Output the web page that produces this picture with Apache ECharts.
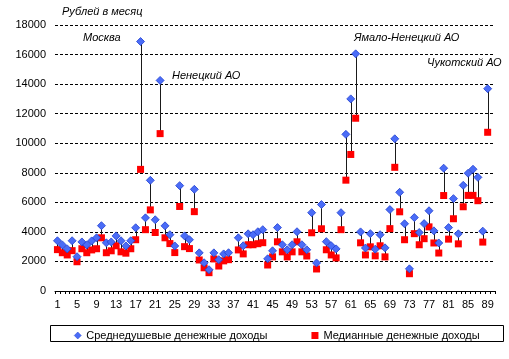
<!DOCTYPE html>
<html>
<head>
<meta charset="utf-8">
<script src="https://cdn.jsdelivr.net/npm/echarts@6/dist/echarts.min.js"></script>
<style>
html,body{margin:0;padding:0;background:#fff;}
#c{width:509px;height:359px;}
</style>
</head>
<body>
<div id="c"></div>
<script>
// Region numbers 1..90 (category 37 and 90 have no data)
const categories = [];
for (let i = 1; i <= 90; i++) categories.push(String(i));

// Среднедушевые денежные доходы (руб./мес.)
const avgIncome = [
  3400, 3120, 2850, 3400, 2320, 3320, 3120, 3390, 3600, 4420,
  3260, 3320, 3730, 3400, 3050, 3400, 4280, 16880, 4950, 7490,
  4820, 14250, 4410, 3810, 3050, 7130, 3730, 3470, 6880, 2580,
  1910, 1440, 2580, 2120, 2510, 2590, null, 3600, 3060, 3870,
  3810, 4010, 4150, 2180, 2720, 4290, 3130, 2790, 3130, 4010,
  3130, 2790, 5300, 1900, 5850, 3340, 3060, 2850, 5300, 10600,
  13000, 16050, 4000, 2910, 3880, 2830, 3810, 2920, 5510, 10300,
  6680, 4550, 1500, 4970, 3960, 4560, 5430, 4070, 3250, 8310,
  4290, 6250, 3870, 7150, 7970, 8240, 7690, 4050, 13690, null
];

// Медианные денежные доходы (руб./мес.)
const medIncome = [
  2800, 2590, 2440, 2730, 1980, 2860, 2590, 2780, 2860, 3600,
  2590, 2720, 3060, 2650, 2560, 2860, 3470, 8230, 4150, 5490,
  3960, 10650, 3600, 3210, 2600, 5720, 3000, 2870, 5370, 2100,
  1570, 1240, 2170, 1690, 2040, 2120, null, 2780, 2510, 3130,
  3130, 3200, 3270, 1760, 2310, 3330, 2650, 2310, 2650, 3330,
  2650, 2370, 3940, 1490, 4210, 2790, 2440, 2240, 4150, 7500,
  9240, 11690, 3260, 2440, 2990, 2380, 3060, 2310, 4220, 8370,
  5360, 3470, 1170, 3880, 3130, 3540, 4340, 3250, 2570, 6460,
  3510, 4890, 3190, 5700, 6470, 6470, 6110, 3310, 10740, null
];

const seriesNames = ['Среднедушевые денежные доходы', 'Медианные денежные доходы'];
const yTicks = { min: 0, max: 18000, interval: 2000 };
const unitLabel = 'Рублей в месяц';
const annotations = ['Москва', 'Ненецкий АО', 'Ямало-Ненецкий АО', 'Чукотский АО'];

const FONT = '"Liberation Sans", Arial, sans-serif';

const rangeData = categories.map((c, i) => [i, avgIncome[i], medIncome[i]]);

const chart = echarts.init(document.getElementById('c'), null, { renderer: 'canvas' });

chart.setOption({
  animation: false,
  backgroundColor: '#ffffff',
  textStyle: { fontFamily: FONT },
  grid: { left: 55, right: 14, top: 25, bottom: 68, containLabel: false },
  xAxis: {
    type: 'category',
    data: categories,
    boundaryGap: true,
    axisLine: { show: true, lineStyle: { color: '#000', width: 1 } },
    axisTick: { show: true, interval: 0, length: 3, lineStyle: { color: '#000' } },
    axisLabel: { interval: 3, color: '#000', fontSize: 11, fontFamily: FONT, margin: 8 },
    splitLine: { show: false }
  },
  yAxis: {
    type: 'value',
    min: yTicks.min, max: yTicks.max, interval: yTicks.interval,
    axisLine: { show: false },
    axisTick: { show: false },
    axisLabel: { color: '#000', fontSize: 11, fontFamily: FONT, margin: 9, formatter: function (v) { return String(v); } },
    splitLine: { show: true, lineStyle: { color: '#000', type: [3, 2], width: 1 } }
  },
  legend: {
    left: 69, top: 325,
    itemWidth: 7, itemHeight: 7, itemGap: 44,
    textStyle: { color: '#000', fontSize: 11, fontFamily: FONT },
    data: [
      { name: seriesNames[0], icon: 'diamond', itemStyle: { color: '#4a6cf7', borderColor: '#1f3fd0', borderWidth: 0.5 } },
      { name: seriesNames[1], icon: 'rect' }
    ]
  },
  graphic: [
    { type: 'rect', left: 48, top: 323, shape: { width: 453, height: 16 }, style: { fill: 'none', stroke: '#000', lineWidth: 1 }, silent: true },
    { type: 'text', left: 62, top: 6, style: { text: unitLabel, font: 'italic 11px ' + FONT, fill: '#000' } },
    { type: 'text', left: 83, top: 32, style: { text: annotations[0], font: 'italic 11px ' + FONT, fill: '#000' } },
    { type: 'text', left: 172, top: 70, style: { text: annotations[1], font: 'italic 11px ' + FONT, fill: '#000' } },
    { type: 'text', left: 354, top: 32, style: { text: annotations[2], font: 'italic 11px ' + FONT, fill: '#000' } },
    { type: 'text', left: 427, top: 57, style: { text: annotations[3], font: 'italic 11px ' + FONT, fill: '#000' } }
  ],
  series: [
    {
      type: 'custom',
      name: 'range',
      silent: true,
      z: 1,
      encode: { x: 0, y: [1, 2] },
      data: rangeData,
      renderItem: function (params, api) {
        const a = api.value(1), m = api.value(2);
        if (a == null || m == null || isNaN(a) || isNaN(m)) return null;
        const p1 = api.coord([api.value(0), a]);
        const p2 = api.coord([api.value(0), m]);
        const x = Math.round(p1[0]) + 0.5;
        return {
          type: 'line',
          shape: { x1: x, y1: p1[1], x2: x, y2: p2[1] },
          style: { stroke: '#1a1a1a', lineWidth: 1 }
        };
      }
    },
    {
      type: 'scatter',
      name: seriesNames[1],
      z: 3,
      symbol: 'rect',
      symbolSize: 7,
      itemStyle: { color: '#ff0000', opacity: 1 },
      data: medIncome.map(v => v == null ? '-' : v)
    },
    {
      type: 'scatter',
      name: seriesNames[0],
      z: 4,
      symbol: 'diamond',
      symbolSize: 8,
      itemStyle: { color: '#4a6cf7', borderColor: '#1f3fd0', borderWidth: 0.8, opacity: 1 },
      data: avgIncome.map(v => v == null ? '-' : v)
    }
  ]
});
</script>
</body>
</html>
